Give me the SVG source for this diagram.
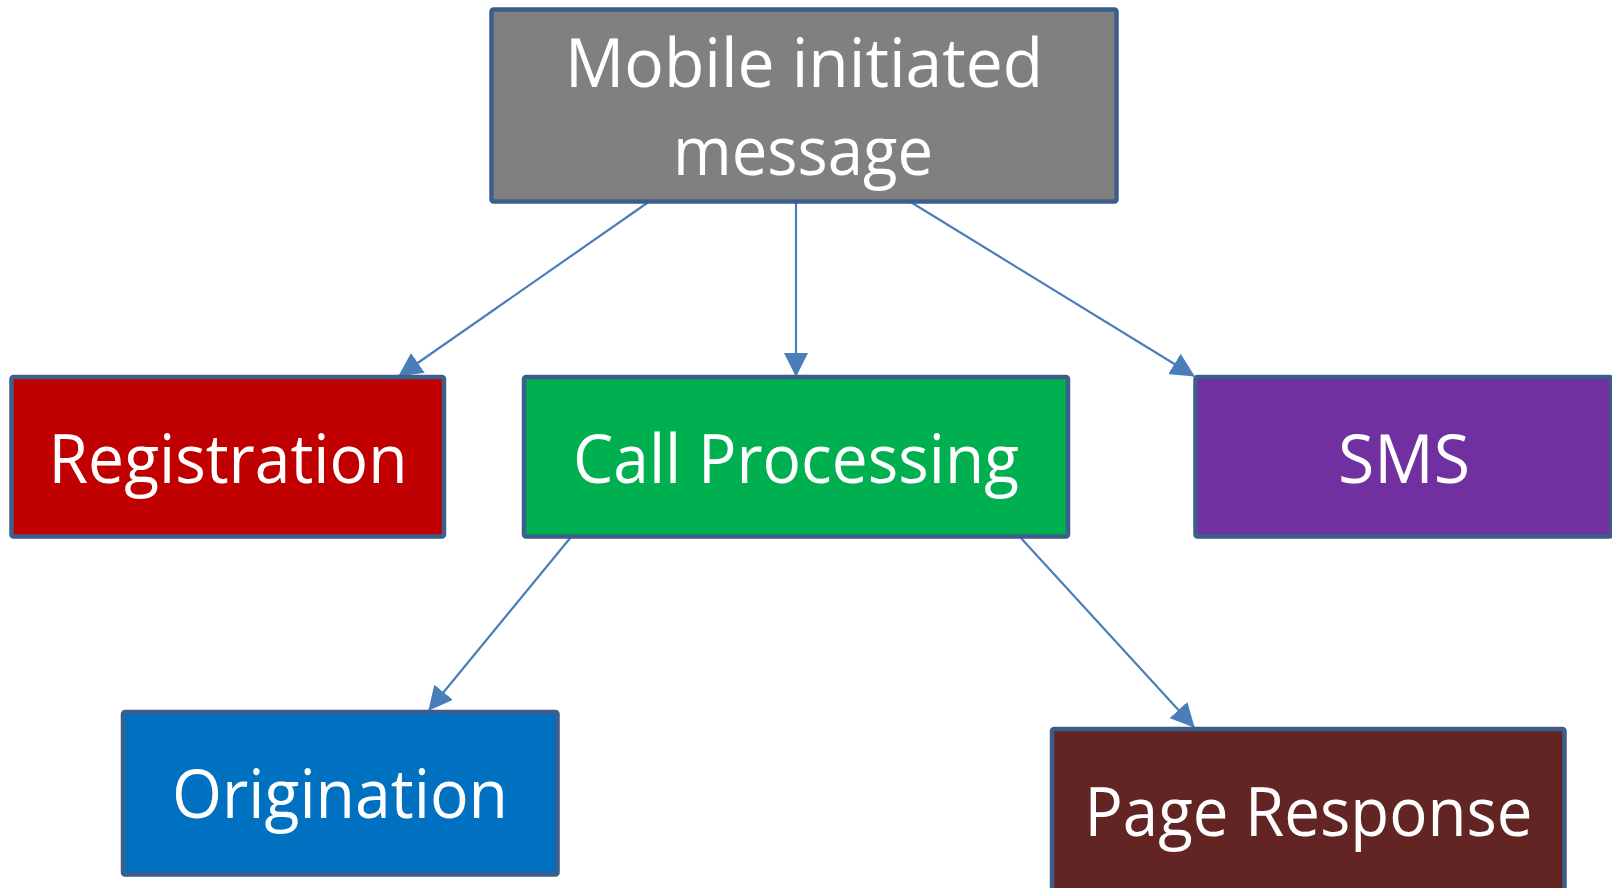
<svg xmlns="http://www.w3.org/2000/svg" width="1612" height="888" viewBox="0 0 1612 888">
<style>
.box{stroke:#3B5E8C;stroke-width:4.5}
.lbl{font-family:"Open Sans","Noto Sans","Liberation Sans",sans-serif;font-size:68px;fill:#FFFFFF;text-anchor:middle}
.conn{stroke:#4A7EBB;stroke-width:2.2;fill:none;marker-end:url(#ah)}
</style>
<defs>
<marker id="ah" viewBox="0 0 24 24" refX="23" refY="12" markerWidth="24" markerHeight="24" markerUnits="userSpaceOnUse" orient="auto">
<path d="M0,0 L24,12 L0,24 z" fill="#4A7EBB"/>
</marker>
</defs>
<rect width="1612" height="888" fill="#FFFFFF"/>
<g id="connectors">
<line class="conn" x1="650" y1="201" x2="399" y2="376"/>
<line class="conn" x1="796" y1="201" x2="796" y2="376"/>
<line class="conn" x1="909" y1="201" x2="1194" y2="376"/>
<line class="conn" x1="571" y1="537" x2="429" y2="710"/>
<line class="conn" x1="1020" y1="537" x2="1194" y2="727"/>
</g>
<g id="node-mobile">
<rect class="box" x="491.5" y="9.5" width="625" height="192" rx="2" fill="#808080"/>
<text class="lbl" x="804" y="87" textLength="478" lengthAdjust="spacingAndGlyphs">Mobile initiated</text>
<text class="lbl" x="803" y="175" textLength="260" lengthAdjust="spacingAndGlyphs">message</text>
</g>
<g id="node-registration">
<rect class="box" x="11.5" y="377" width="432.5" height="159.5" rx="2" fill="#C00000"/>
<text class="lbl" x="228" y="483" textLength="359" lengthAdjust="spacingAndGlyphs">Registration</text>
</g>
<g id="node-callprocessing">
<rect class="box" x="524" y="377" width="544" height="159.5" rx="2" fill="#00B050"/>
<text class="lbl" x="796" y="483" textLength="446" lengthAdjust="spacingAndGlyphs">Call Processing</text>
</g>
<g id="node-sms">
<rect class="box" x="1195.5" y="377" width="416" height="159.5" rx="2" fill="#7030A0"/>
<text class="lbl" x="1404" y="483" textLength="132" lengthAdjust="spacingAndGlyphs">SMS</text>
</g>
<g id="node-origination">
<rect class="box" x="123" y="712" width="434.5" height="162.5" rx="2" fill="#0070C0"/>
<text class="lbl" x="340" y="818" textLength="336" lengthAdjust="spacingAndGlyphs">Origination</text>
</g>
<g id="node-pageresponse">
<rect class="box" x="1052" y="729" width="512.5" height="165" rx="2" fill="#632523"/>
<text class="lbl" x="1308.5" y="836" textLength="448" lengthAdjust="spacingAndGlyphs">Page Response</text>
</g>
</svg>
